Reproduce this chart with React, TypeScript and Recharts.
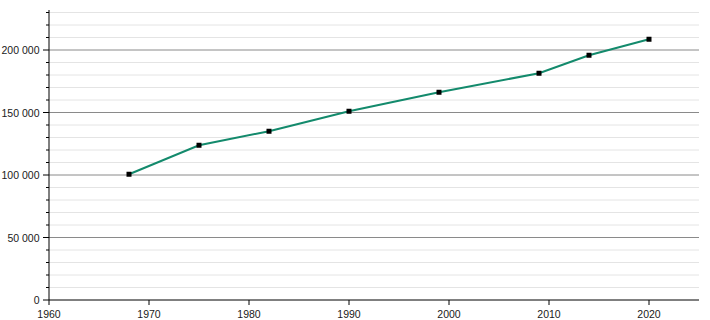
import { CartesianGrid, Line, LineChart, XAxis, YAxis } from 'recharts';

const years = [1968, 1975, 1982, 1990, 1999, 2009, 2014, 2020];
const population = [100600, 123800, 135000, 151000, 166200, 181400, 195800, 208600];

const xTicks = [1960, 1970, 1980, 1990, 2000, 2010, 2020];
const majorTicks = [0, 50000, 100000, 150000, 200000];
const minorTicks = [
  10000, 20000, 30000, 40000, 60000, 70000, 80000, 90000, 110000, 120000, 130000,
  140000, 160000, 170000, 180000, 190000, 210000, 220000, 230000,
];
const allTicks = [...majorTicks, ...minorTicks].sort((a, b) => a - b);

const data = years.map((year, i) => ({ year, value: population[i] }));

const LINE = '#138a6c';
const FONT = '"Liberation Sans", Arial, sans-serif';

const fmt = (v: number) => (v === 0 ? '0' : `${Math.floor(v / 1000)} ${String(v % 1000).padStart(3, '0')}`);

function YTick(props: any) {
  const { x, y, payload } = props;
  const major = majorTicks.includes(payload.value);
  return (
    <g>
      <line x1={x - (major ? 6 : 3)} x2={x} y1={y} y2={y} stroke="#000" />
      {major && (
        <text x={x - 9.5} y={y} dy={4} textAnchor="end" fontSize={10.5} fill="#1a1a1a" fontFamily={FONT}>
          {fmt(payload.value)}
        </text>
      )}
    </g>
  );
}

function Square(props: any) {
  const { cx, cy } = props;
  return <rect x={cx - 2.5} y={cy - 2.5} width={5} height={5} fill="#000" />;
}

export default function App() {
  return (
    <div style={{ position: 'absolute', left: 0, top: 0, width: 710, height: 320, background: '#fff' }}>
      <LineChart width={710} height={320} data={data} margin={{ top: 10, right: 11, bottom: 0, left: 0 }}>
        <CartesianGrid vertical={false} horizontalValues={minorTicks} stroke="#e4e4e4" />
        <CartesianGrid vertical={false} horizontalValues={majorTicks.slice(1)} stroke="#8a8a8a" />
        <XAxis
          dataKey="year"
          type="number"
          domain={[1960, 2025]}
          ticks={xTicks}
          height={20}
          stroke="#000"
          tickSize={5}
          tickMargin={6}
          tick={{ fontSize: 10.5, fill: '#1a1a1a', fontFamily: FONT }}
          allowDataOverflow
        />
        <YAxis
          type="number"
          domain={[0, 232000]}
          ticks={allTicks}
          width={49}
          stroke="#000"
          tickSize={0}
          tickMargin={0}
          tickLine={false}
          tick={<YTick />}
          interval={0}
          allowDataOverflow
        />
        <Line
          dataKey="value"
          stroke={LINE}
          strokeWidth={2}
          dot={<Square />}
          activeDot={false}
          isAnimationActive={false}
        />
      </LineChart>
    </div>
  );
}
